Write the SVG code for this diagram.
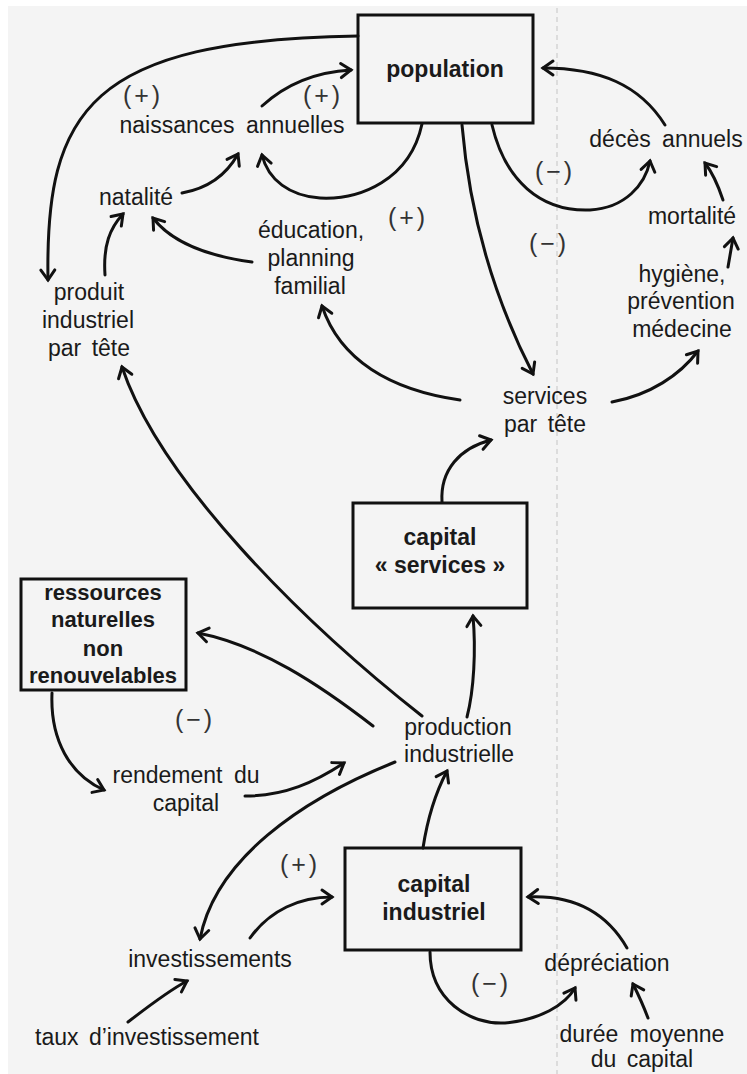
<svg xmlns="http://www.w3.org/2000/svg" width="747" height="1074" viewBox="0 0 747 1074">
<defs>
<style>
.t{font-family:"Liberation Sans",Arial,sans-serif;font-size:23px;fill:#1a1a1a;text-anchor:middle}
.b{font-weight:bold}
.s{font-family:"Liberation Sans",Arial,sans-serif;font-size:25px;fill:#333;text-anchor:middle;letter-spacing:3px}
.box{fill:none;stroke:#111;stroke-width:3}
.c path{fill:none;stroke:#111;stroke-width:3;stroke-linecap:round;marker-end:url(#ah)}
</style>
<marker id="ah" markerUnits="userSpaceOnUse" markerWidth="30" markerHeight="30" viewBox="-15 -15 30 30" refX="0" refY="0" orient="auto">
<path d="M-10,-7 L0,0 L-10,7" fill="none" stroke="#111" stroke-width="3" stroke-linecap="round" stroke-linejoin="miter"/>
</marker>
</defs>
<rect x="0" y="0" width="747" height="1074" fill="#ffffff"/>
<rect x="8" y="6" width="739" height="1068" fill="#f4f4f4"/>
<line x1="557" y1="8" x2="557" y2="1074" stroke="#c4c4c4" stroke-width="1" stroke-dasharray="5 4"/>

<g class="c" id="connectors">
<path d="M358,36 C90,40 45,110 48,280"/>
<path d="M262,106 C285,85 315,72 351,70"/>
<path d="M422,124 C410,180 360,200 320,198 C290,196 268,180 262,155"/>
<path d="M182,193 C210,188 228,172 238,154"/>
<path d="M105,275 C103,245 110,228 123,214"/>
<path d="M252,262 C200,255 170,240 153,218"/>
<path d="M460,400 C390,390 340,360 322,306"/>
<path d="M462,125 C470,220 495,300 533,374"/>
<path d="M612,402 C650,395 680,375 698,351"/>
<path d="M728,267 L733,238"/>
<path d="M723,200 C718,185 712,172 705,163"/>
<path d="M492,125 C505,180 540,212 590,210 C625,208 645,185 650,161"/>
<path d="M665,125 C640,85 600,68 543,68"/>
<path d="M442,502 C440,470 460,448 491,440"/>
<path d="M467,717 C474,690 476,650 473,616"/>
<path d="M422,716 C300,620 160,480 122,367"/>
<path d="M373,726 C320,685 260,645 198,633"/>
<path d="M52,693 C50,740 70,775 104,790"/>
<path d="M245,796 C285,796 315,782 344,763"/>
<path d="M395,762 C300,800 215,860 200,939"/>
<path d="M250,938 C270,910 300,897 332,897"/>
<path d="M423,848 C428,815 437,790 447,771"/>
<path d="M128,1022 C150,1005 170,990 187,981"/>
<path d="M430,952 C430,1000 470,1025 505,1023 C540,1020 565,1005 575,988"/>
<path d="M627,948 C605,910 570,895 528,897"/>
<path d="M648,1018 C642,1002 637,992 633,984"/>
</g>

<g id="population"><rect class="box" x="358" y="15" width="175" height="108"/><text class="t b" x="445" y="77">population</text></g>
<g id="naissances"><text class="t" x="232" y="133" word-spacing="5">naissances annuelles</text></g>
<g id="natalite"><text class="t" x="136" y="205">natalité</text></g>
<g id="produit"><text class="t" x="89" y="300">produit</text><text class="t" x="88" y="328">industriel</text><text class="t" x="89" y="356" word-spacing="4">par tête</text></g>
<g id="education"><text class="t" x="311" y="238">éducation,</text><text class="t" x="311" y="266">planning</text><text class="t" x="310" y="294">familial</text></g>
<g id="deces"><text class="t" x="666" y="147" word-spacing="5">décès annuels</text></g>
<g id="mortalite"><text class="t" x="692" y="224">mortalité</text></g>
<g id="hygiene"><text class="t" x="682" y="282">hygiène,</text><text class="t" x="681" y="309">prévention</text><text class="t" x="682" y="337">médecine</text></g>
<g id="services"><text class="t" x="545" y="404">services</text><text class="t" x="545" y="432" word-spacing="4">par tête</text></g>
<g id="capital-services"><rect class="box" x="353" y="503" width="174" height="105"/><text class="t b" x="440" y="545">capital</text><text class="t b" x="440" y="573">« services »</text></g>
<g id="ressources"><rect class="box" x="21" y="579" width="165" height="111"/><text class="t b" x="103" y="600" style="font-size:22px">ressources</text><text class="t b" x="103" y="627" style="font-size:22px">naturelles</text><text class="t b" x="103" y="656" style="font-size:22px">non</text><text class="t b" x="103" y="683" style="font-size:22px">renouvelables</text></g>
<g id="production"><text class="t" x="458" y="735">production</text><text class="t" x="459" y="762">industrielle</text></g>
<g id="rendement"><text class="t" x="186" y="783" word-spacing="5">rendement du</text><text class="t" x="186" y="811">capital</text></g>
<g id="capital-industriel"><rect class="box" x="345" y="848" width="176" height="102"/><text class="t b" x="434" y="892">capital</text><text class="t b" x="434" y="920">industriel</text></g>
<g id="investissements"><text class="t" x="210" y="967">investissements</text></g>
<g id="taux"><text class="t" x="147" y="1045" word-spacing="4">taux d’investissement</text></g>
<g id="depreciation"><text class="t" x="607" y="971">dépréciation</text></g>
<g id="duree"><text class="t" x="642" y="1042" word-spacing="5">durée moyenne</text><text class="t" x="642" y="1067" word-spacing="4">du capital</text></g>

<g id="signs">
<text class="s" x="143" y="104">(+)</text>
<text class="s" x="323" y="104">(+)</text>
<text class="s" x="408" y="226">(+)</text>
<text class="s" x="555" y="180">(−)</text>
<text class="s" x="549" y="252">(−)</text>
<text class="s" x="195" y="728">(−)</text>
<text class="s" x="300" y="873">(+)</text>
<text class="s" x="491" y="992">(−)</text>
</g>
</svg>
